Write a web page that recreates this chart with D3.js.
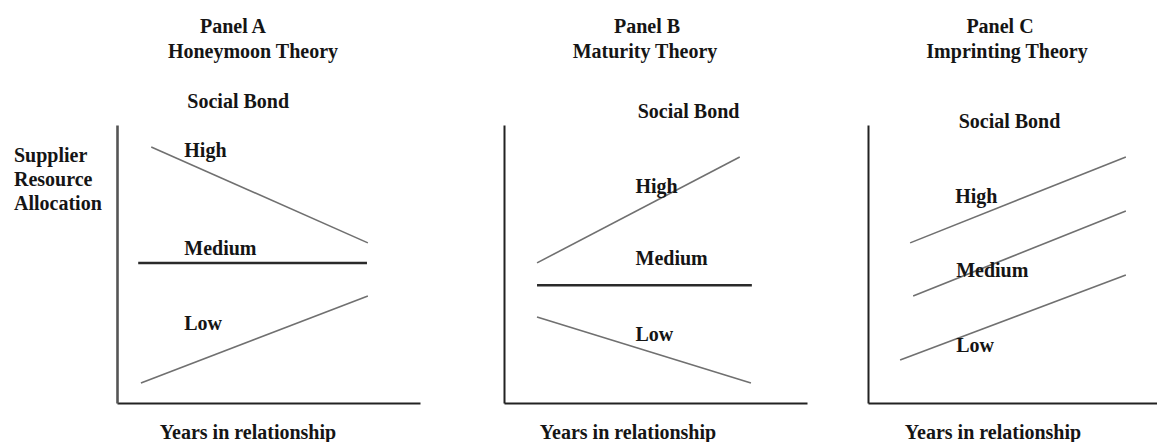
<!DOCTYPE html>
<html>
<head>
<meta charset="utf-8">
<script src="https://cdn.jsdelivr.net/npm/d3@7"></script>
<style>
body{margin:0;background:#fff;}
svg{display:block;}
.lbl{font-family:"Liberation Serif","Times New Roman",serif;font-weight:bold;font-size:20px;fill:#151515;}
</style>
</head>
<body>
<div id="viz"></div>
<script>
var width=1157, height=442;

// panels
var panels=["Panel A","Panel B","Panel C"];
var theories=["Honeymoon Theory","Maturity Theory","Imprinting Theory"];
var series=["High","Medium","Low"];
var xLabel="Years in relationship";
var yLabel=["Supplier","Resource","Allocation"];
var bondLabel="Social Bond";

// line start/end in (years, allocation) units, 0-10 scale, one row per series
var startX=[[1.13,0.70,0.79],[1.09,1.09,1.09],[1.39,1.49,1.06]];
var endX  =[[8.28,8.25,8.28],[7.78,8.18,8.15],[8.51,8.51,8.51]];
var startY=[[9.21,5.04,0.72],[5.04,4.24,3.09],[5.76,3.85,1.55]];
var endY  =[[5.76,5.04,3.85],[8.85,4.24,0.72],[8.85,6.91,4.60]];

// where the series names sit (same units)
var nameX=[[2.22,2.22,2.22],[4.34,4.34,4.34],[2.88,2.91,2.91]];
var nameY=[[8.85,5.32,2.63],[7.55,4.96,2.23],[7.19,4.53,1.83]];
var bondX=[4.0,6.09,4.67];
var bondY=[10.6,10.25,9.89];

var svg=d3.select("#viz").append("svg")
  .attr("width",width)
  .attr("height",height);

var originX=[117,504,868];
var axisW=303, plotTop=125, plotBottom=403;

var yScale=d3.scaleLinear().domain([0,10]).range([plotBottom,plotTop]);

for(var p=0;p<panels.length;p++)
{
  var xScale=d3.scaleLinear().domain([0,10]).range([originX[p],originX[p]+axisW]);
  var g=svg.append("g");

  // axes, no ticks
  g.append("g")
    .attr("transform","translate(0,"+plotBottom+")")
    .call(d3.axisBottom(xScale).ticks(0).tickSizeOuter(0))
    .select(".domain").attr("stroke","#222").attr("stroke-width",2.2);
  g.append("g")
    .attr("transform","translate("+originX[p]+",0)")
    .call(d3.axisLeft(yScale).ticks(0).tickSizeOuter(0))
    .select(".domain").attr("stroke",p==0?"#555":"#222").attr("stroke-width",p==0?2.6:2);

  for(var s=0;s<series.length;s++)
  {
    var flat=(s==1 && p<2);
    g.append("line")
      .attr("x1",xScale(startX[p][s]))
      .attr("y1",yScale(startY[p][s]))
      .attr("x2",xScale(endX[p][s]))
      .attr("y2",yScale(endY[p][s]))
      .attr("stroke",flat?"#2a2a2a":"#707070")
      .attr("stroke-width",flat?2.5:1.6);

    g.append("text")
      .attr("class","lbl")
      .attr("x",xScale(nameX[p][s]))
      .attr("y",yScale(nameY[p][s]))
      .text(series[s]);
  }

  g.append("text").attr("class","lbl")
    .attr("x",xScale(bondX[p])).attr("y",yScale(bondY[p]))
    .attr("text-anchor","middle")
    .text(bondLabel);

  var tx=[233,647,1000][p], tx2=[253,645,1007][p], lx=[248,628,993][p];
  g.append("text").attr("class","lbl").attr("x",tx).attr("y",33)
    .attr("text-anchor","middle").text(panels[p]);
  g.append("text").attr("class","lbl").attr("x",tx2).attr("y",58)
    .attr("text-anchor","middle").text(theories[p]);
  g.append("text").attr("class","lbl").attr("x",lx).attr("y",439)
    .attr("text-anchor","middle").text(xLabel);
}

svg.selectAll(".ylab")
  .data(yLabel)
  .enter()
  .append("text")
  .attr("class","lbl ylab")
  .attr("x",14)
  .attr("y",function(d,i){return 162+i*24;})
  .text(function(d){return d;});
</script>
</body>
</html>
